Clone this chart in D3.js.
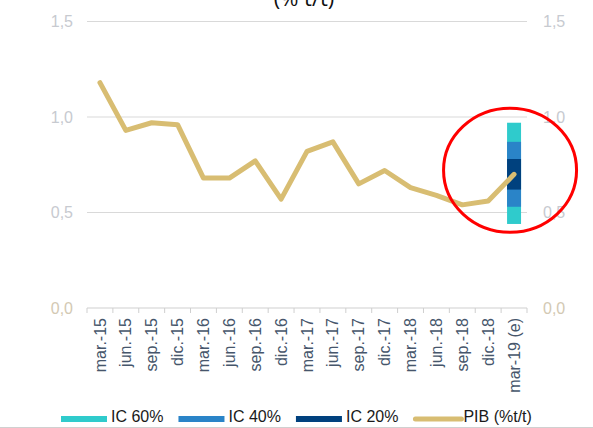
<!DOCTYPE html>
<html>
<head>
<meta charset="utf-8">
<script src="https://cdn.jsdelivr.net/npm/d3@7"></script>
<style>
  html, body { margin: 0; padding: 0; background: #fff; }
  svg { display: block; }
</style>
</head>
<body>
<div id="chart"></div>
<script>
// Quarterly GDP growth (% q/q) with a fan of confidence intervals for the estimate
const categories = ["mar.-15", "jun.-15", "sep.-15", "dic.-15", "mar.-16", "jun.-16", "sep.-16", "dic.-16",
  "mar.-17", "jun.-17", "sep.-17", "dic.-17", "mar.-18", "jun.-18", "sep.-18", "dic.-18", "mar-19 (e)"];
const pib = [1.18, 0.93, 0.97, 0.96, 0.68, 0.68, 0.77, 0.57, 0.82, 0.87, 0.65, 0.72, 0.63, 0.59, 0.54, 0.56, 0.70];

// Confidence bands for the estimated quarter (widest first)
const bandLabels = ["IC 60%", "IC 40%", "IC 20%"];
const bandLow = [0.44, 0.53, 0.62];
const bandHigh = [0.97, 0.87, 0.78];
const bandColors = ["#2fcbcc", "#2a84c8", "#00417e"];
const bandCategory = "mar-19 (e)";

const yTicks = [0, 0.5, 1.0, 1.5];
const seriesLabel = "PIB (%t/t)";
const titleText = "(% t/t)";

const W = 593, H = 428;
const margin = { left: 87, right: 66, top: 21.5, bottom: 120 };
const lineColor = "#d8bd72";
const font = "'Liberation Sans', Arial, sans-serif";

const svg = d3.select("#chart").append("svg").attr("width", W).attr("height", H);

const x = d3.scaleBand().domain(categories).range([margin.left, W - margin.right]).padding(0);
const y = d3.scaleLinear().domain([0, 1.5]).range([H - margin.bottom, margin.top]);

const locale = d3.formatLocale({ decimal: ",", thousands: ".", grouping: [3], currency: ["", "€"] });
const fmt = locale.format(".1f");

// Title (second line, partly above the frame)
svg.append("text")
  .attr("x", 304).attr("y", 6)
  .attr("text-anchor", "middle")
  .attr("font-family", "'Open Sans', sans-serif")
  .attr("font-size", 22)
  .attr("fill", "#111")
  .text(titleText);

// Horizontal gridlines
svg.append("g").selectAll("line")
  .data(yTicks.filter(d => d > 0))
  .join("line")
  .attr("x1", margin.left).attr("x2", W - margin.right)
  .attr("y1", d => y(d)).attr("y2", d => y(d))
  .attr("stroke", "#d9d9d9").attr("stroke-width", 1);

// Left and right value axes (labels only)
const tickColor = d => d === 0 ? "#d3c9b3" : "#c7cad0";
const leftAxis = svg.append("g")
  .attr("transform", `translate(${margin.left - 14},0)`)
  .call(d3.axisLeft(y).tickValues(yTicks).tickFormat(fmt).tickSize(0).tickPadding(0));
const rightAxis = svg.append("g")
  .attr("transform", `translate(${W - margin.right + 16},0)`)
  .call(d3.axisRight(y).tickValues(yTicks).tickFormat(fmt).tickSize(0).tickPadding(0));
[leftAxis, rightAxis].forEach(g => {
  g.select(".domain").remove();
  g.selectAll("text")
    .attr("font-family", font)
    .attr("font-size", 16)
    .attr("fill", tickColor);
});

// Category axis with tick marks at band boundaries
const xAxis = svg.append("g")
  .attr("transform", `translate(0,${y(0)})`);
xAxis.append("line")
  .attr("x1", margin.left).attr("x2", W - margin.right)
  .attr("stroke", "#cfcfcf").attr("stroke-width", 1);
const bounds = categories.map(c => x(c)).concat([x(categories[categories.length - 1]) + x.bandwidth()]);
xAxis.selectAll("line.tick")
  .data(bounds)
  .join("line")
  .attr("class", "tick")
  .attr("x1", d => d).attr("x2", d => d)
  .attr("y1", 0).attr("y2", 5)
  .attr("stroke", "#cfcfcf").attr("stroke-width", 1);
xAxis.selectAll("text")
  .data(categories)
  .join("text")
  .attr("transform", d => `translate(${x(d) + x.bandwidth() / 2},10) rotate(-90)`)
  .attr("text-anchor", "end")
  .attr("dy", "0.35em")
  .attr("font-family", font)
  .attr("font-size", 16)
  .attr("fill", "#46566b")
  .text(d => d);

// Fan chart bars for the estimate
const barW = x.bandwidth() * 0.54;
const bx = x(bandCategory) + x.bandwidth() / 2 - barW / 2;
svg.append("g").selectAll("rect")
  .data(bandLabels.map((l, i) => ({ l, lo: bandLow[i], hi: bandHigh[i], c: bandColors[i] })))
  .join("rect")
  .attr("x", bx).attr("width", barW)
  .attr("y", d => y(d.hi)).attr("height", d => y(d.lo) - y(d.hi))
  .attr("fill", d => d.c);

// GDP line
const line = d3.line()
  .x((d, i) => x(categories[i]) + x.bandwidth() / 2)
  .y(d => y(d));
svg.append("path")
  .datum(pib)
  .attr("d", line)
  .attr("fill", "none")
  .attr("stroke", lineColor)
  .attr("stroke-width", 5)
  .attr("stroke-linejoin", "round")
  .attr("stroke-linecap", "round");

// Highlight ring around the estimate
const lastIdx = pib.length - 1;
svg.append("ellipse")
  .attr("cx", x(bandCategory) + x.bandwidth() / 2 - 4)
  .attr("cy", y(pib[lastIdx]) - 4)
  .attr("rx", 66.5).attr("ry", 62)
  .attr("fill", "none")
  .attr("stroke", "#ff0000")
  .attr("stroke-width", 3);

// Legend
const legendItems = bandLabels.map((l, i) => ({ label: l, color: bandColors[i], type: "rect" }))
  .concat([{ label: seriesLabel, color: lineColor, type: "line" }]);
const legend = svg.append("g");
let lx = 61;
const ly = 419;
legendItems.forEach(it => {
  if (it.type === "rect") {
    legend.append("rect").attr("x", lx).attr("y", ly - 3).attr("width", 46).attr("height", 6).attr("fill", it.color);
  } else {
    legend.append("line").attr("x1", lx + 2).attr("x2", lx + 48).attr("y1", ly).attr("y2", ly)
      .attr("stroke", it.color).attr("stroke-width", 5).attr("stroke-linecap", "round");
  }
  const t = legend.append("text")
    .attr("x", lx + 50).attr("y", ly + 3)
    .attr("font-family", font).attr("font-size", 16)
    .attr("fill", "#1a1a1a")
    .text(it.label);
  lx += 50 + t.node().getComputedTextLength() + 15;
});

// Bottom frame edge
svg.append("line")
  .attr("x1", 0).attr("x2", W).attr("y1", 427.5).attr("y2", 427.5)
  .attr("stroke", "#d0d0d0").attr("stroke-width", 1);
</script>
</body>
</html>
